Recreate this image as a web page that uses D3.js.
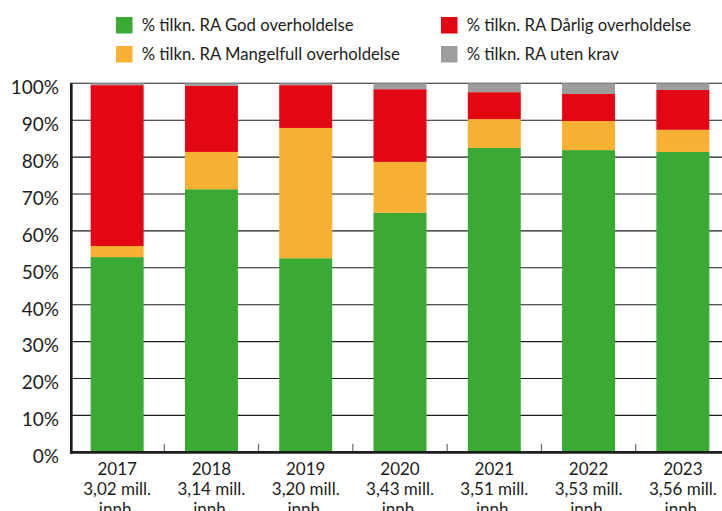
<!DOCTYPE html>
<html><head><meta charset="utf-8">
<script src="https://cdn.jsdelivr.net/npm/d3@7"></script>
<style>
html,body{margin:0;padding:0;background:#fff;}
svg{display:block;font-family:Lato, "Open Sans", sans-serif;}
</style></head>
<body><svg id="c" width="722" height="511"></svg>
<script>
const years = ["2017","2018","2019","2020","2021","2022","2023"];
const population = ["3,02 mill.","3,14 mill.","3,20 mill.","3,43 mill.","3,51 mill.","3,53 mill.","3,56 mill."];
const popUnit = "innh.";
const god = [52.9, 71.3, 52.6, 64.9, 82.5, 81.9, 81.4];
const mangelfull = [3.0, 10.1, 35.3, 13.8, 7.8, 7.9, 6.0];
const darlig = [43.6, 17.9, 11.6, 19.7, 7.3, 7.3, 10.8];
const utenKrav = [0.5, 0.7, 0.5, 1.6, 2.4, 2.9, 1.8];
const seriesNames = ["% tilkn. RA God overholdelse","% tilkn. RA Mangelfull overholdelse","% tilkn. RA Dårlig overholdelse","% tilkn. RA uten krav"];
const seriesKeys = ["god","mangelfull","darlig","uten"];
const colors = ["#3AAA35","#F8B133","#E30613","#9D9D9C"];
const yTicks = [0,10,20,30,40,50,60,70,80,90,100];

const rows = years.map((y,i)=>({year:y, god:god[i], mangelfull:mangelfull[i], darlig:darlig[i], uten:utenKrav[i]}));
const stack = d3.stack().keys(seriesKeys)(rows);

const svg = d3.select("#c");
const x = d3.scaleBand().domain(years).range([70,730]).paddingInner(0.438).paddingOuter(0.219);
const y = d3.scaleLinear().domain([0,100]).range([452.3,83.3]);
const color = d3.scaleOrdinal().domain(seriesKeys).range(colors);

// gridlines
svg.append("g").selectAll("line").data(yTicks.filter(t=>t>0)).join("line")
  .attr("x1",70).attr("x2",730).attr("y1",d=>y(d)).attr("y2",d=>y(d))
  .attr("stroke","#1d1d1b").attr("stroke-width",1.1);

// bars
svg.append("g").selectAll("g").data(stack).join("g")
  .attr("fill",d=>color(d.key))
  .selectAll("rect").data(d=>d).join("rect")
  .attr("x",d=>x(d.data.year)).attr("width",x.bandwidth())
  .attr("y",d=>y(d[1])).attr("height",d=>y(d[0])-y(d[1]));

// ticks between categories
const step = x.step();
svg.append("g").selectAll("line").data(years.slice(1)).join("line")
  .attr("x1",d=>x(d)-step*x.paddingInner()/2).attr("x2",d=>x(d)-step*x.paddingInner()/2)
  .attr("y1",y(0)-8.5).attr("y2",y(0))
  .attr("stroke","#555").attr("stroke-width",1);

// axes lines
svg.append("line").attr("x1",71.3).attr("x2",71.3).attr("y1",y(100)).attr("y2",y(0)+1.3)
  .attr("stroke","#1d1d1b").attr("stroke-width",2.7);
svg.append("line").attr("x1",70).attr("x2",730).attr("y1",y(0)).attr("y2",y(0))
  .attr("stroke","#1d1d1b").attr("stroke-width",2.7);

// y labels
svg.append("g").selectAll("text").data(yTicks).join("text")
  .attr("x",59).attr("y",d=>y(d)+6).attr("text-anchor","end").attr("dominant-baseline","middle")
  .attr("font-size",19).attr("fill","#1d1d1b").text(d=>d+"%");

// x labels
const xl = svg.append("g").selectAll("text").data(years).join("text")
  .attr("text-anchor","middle").attr("font-size",17).attr("fill","#1d1d1b");
xl.append("tspan").attr("x",d=>x(d)+x.bandwidth()/2).attr("y",475).text(d=>d);
xl.append("tspan").attr("x",d=>x(d)+x.bandwidth()/2).attr("y",495).text((d,i)=>population[i]);
xl.append("tspan").attr("x",d=>x(d)+x.bandwidth()/2).attr("y",515).text(popUnit);

// legend
const legPos = [[116,17],[116,46],[441,17],[441,46]];
const leg = svg.append("g").selectAll("g").data(seriesKeys).join("g")
  .attr("transform",(d,i)=>`translate(${legPos[i][0]},${legPos[i][1]})`);
leg.append("rect").attr("width",16.5).attr("height",16.5).attr("fill",d=>color(d));
leg.append("text").attr("x",25.7).attr("y",13.8).attr("font-size",16.7).attr("fill","#1d1d1b")
  .text((d,i)=>seriesNames[i]);
</script></body></html>
